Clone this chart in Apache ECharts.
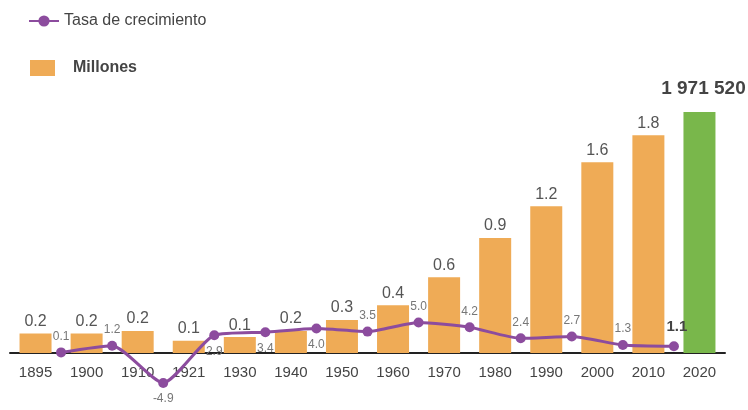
<!DOCTYPE html>
<html>
<head>
<meta charset="utf-8">
<script src="https://cdn.jsdelivr.net/npm/echarts@6/dist/echarts.min.js"></script>
<style>
  html, body { margin: 0; padding: 0; background: #ffffff; }
  #chart { width: 748px; height: 410px; }
</style>
</head>
<body>
<div id="chart"></div>
<script>
// ---- Data ----
const categories = ['1895', '1900', '1910', '1921', '1930', '1940', '1950', '1960', '1970', '1980', '1990', '2000', '2010', '2020'];
const millions = [0.16, 0.16, 0.18, 0.10, 0.13, 0.18, 0.27, 0.39, 0.62, 0.94, 1.20, 1.56, 1.78, 1.97152];
const growthRates = [0.1, 1.2, -4.9, 2.9, 3.4, 4.0, 3.5, 5.0, 4.2, 2.4, 2.7, 1.3, 1.1];
const seriesNames = ['Tasa de crecimiento', 'Millones'];

// ---- Styling ----
const ORANGE = '#EFAB56';
const GREEN = '#79B74B';
const PURPLE = '#8C4C9E';
const FONT = 'Liberation Sans, Arial, sans-serif';
const labelsBelow = new Set([2, 3, 4, 5]);

function fmtTotal(v) {
  return String(Math.round(v * 1e6)).replace(/\B(?=(\d{3})+(?!\d))/g, ' ');
}

const last = millions.length - 1;
const barData = millions.map((v, i) => {
  if (i === last) {
    return {
      value: v,
      itemStyle: { color: GREEN },
      label: {
        formatter: () => fmtTotal(v),
        fontSize: 19, fontWeight: 'bold', color: '#444', distance: 14, offset: [4, 0]
      }
    };
  }
  return v;
});

const lineData = growthRates.map((g, i) => {
  const d = {
    value: [i + 0.5, g],
    label: { position: labelsBelow.has(i) ? 'bottom' : 'top' }
  };
  if (i === growthRates.length - 1) {
    d.label.fontSize = 15;
    d.label.fontWeight = 'bold';
    d.label.color = '#444';
    d.label.distance = 7;
    d.label.offset = [3, 0];
  }
  return d;
});

const chart = echarts.init(document.getElementById('chart'), null, { renderer: 'canvas' });
chart.setOption({
  animation: false,
  backgroundColor: '#ffffff',
  textStyle: { fontFamily: FONT },
  legend: [
    {
      data: [seriesNames[0]],
      left: 28, top: 13,
      padding: 0,
      itemWidth: 30, itemHeight: 14, itemGap: 5,
      textStyle: { fontSize: 16, color: '#444', fontFamily: FONT }
    },
    {
      data: [{ name: seriesNames[1], icon: 'rect' }],
      left: 30, top: 60,
      padding: 0,
      itemWidth: 25, itemHeight: 16,
      textStyle: { fontSize: 16, fontWeight: 'bold', color: '#444', fontFamily: FONT, padding: [0, 0, 0, 13] }
    }
  ],
  grid: { left: 10, right: 23, top: 84, bottom: 57, containLabel: false },
  xAxis: [
    {
      type: 'category',
      data: categories,
      axisLine: { lineStyle: { color: '#222', width: 2 } },
      axisTick: { show: false },
      axisLabel: { color: '#444', fontSize: 15, margin: 12, fontFamily: FONT }
    },
    {
      type: 'value',
      min: -0.5, max: 13.5,
      show: false
    }
  ],
  yAxis: [
    { type: 'value', min: 0, max: 2.2, show: false, splitLine: { show: false } },
    { type: 'value', min: 0, max: 44, show: false, splitLine: { show: false } }
  ],
  series: [
    {
      name: seriesNames[1],
      type: 'bar',
      xAxisIndex: 0, yAxisIndex: 0,
      data: barData,
      barWidth: 32,
      itemStyle: { color: ORANGE },
      label: {
        show: true, position: 'top', distance: 4,
        color: '#555', fontSize: 16, fontFamily: FONT,
        formatter: p => p.value.toFixed(1)
      },
      z: 2
    },
    {
      name: seriesNames[0],
      type: 'line',
      xAxisIndex: 1, yAxisIndex: 1,
      data: lineData,
      clip: false,
      smooth: 0.2,
      symbol: 'circle', symbolSize: 10,
      lineStyle: { color: PURPLE, width: 3 },
      itemStyle: { color: PURPLE },
      label: {
        show: true, distance: 5,
        color: '#777', fontSize: 12, fontFamily: FONT,
        formatter: p => p.value[1].toFixed(1)
      },
      z: 5
    }
  ]
});
</script>
</body>
</html>
